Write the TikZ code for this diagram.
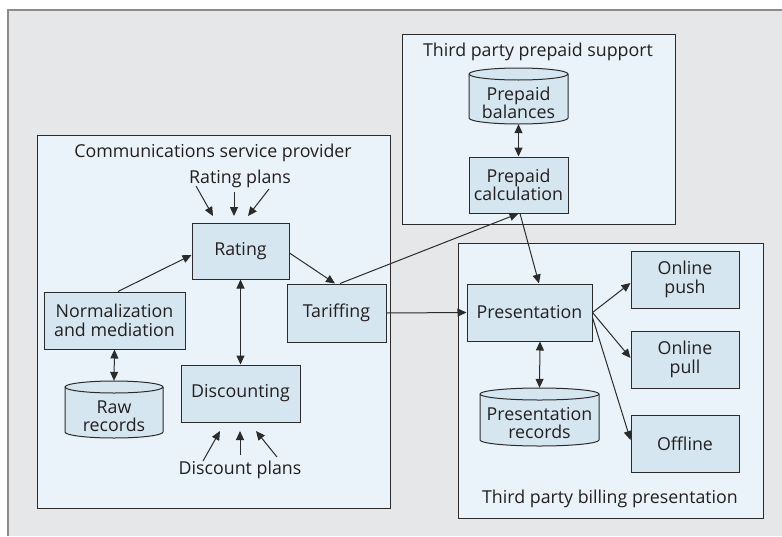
\documentclass[tikz,border=0pt]{standalone}
\usepackage{fontspec}
\setmainfont{Open Sans}
\usetikzlibrary{arrows.meta}
\definecolor{outerbg}{HTML}{E6E7E8}
\definecolor{outerline}{HTML}{8C8C8C}
\definecolor{contbg}{HTML}{EBF3FA}
\definecolor{nodebg}{HTML}{D6E6F0}
\definecolor{lineclr}{HTML}{2B2B2B}
\definecolor{txt}{HTML}{231F20}
\tikzset{
  every node/.style={font=\fontsize{17.8}{18.5}\selectfont, text=txt},
  container/.style={draw=lineclr, fill=contbg, line width=1pt},
  procbox/.style={draw=lineclr, fill=nodebg, line width=1pt, rectangle, inner sep=0pt, align=center},
  cylbox/.style={rectangle, inner sep=0pt, draw=none},
  cylst/.style={draw=lineclr, fill=nodebg, line width=1pt},
  cyltext/.style={align=center, inner sep=0pt},
  plain/.style={inner sep=0pt},
  conn/.style={draw=lineclr, line width=1pt},
  onearrow/.style={conn, -{Triangle[length=9pt,width=8pt]}},
  twoarrow/.style={conn, {Triangle[length=9pt,width=8pt]}-{Triangle[length=9pt,width=8pt]}},
}
\begin{document}
\begin{tikzpicture}[x=1pt,y=-1pt]
\useasboundingbox (0,0) rectangle (782,536);
% outer frame
\fill[outerbg] (8,10) rectangle (782,536);
\draw[outerline, line width=1.2pt] (8,536) -- (8,10) -- (782,10);
% containers
\draw[container] (37,135) rectangle (390,508);
\draw[container] (402,34) rectangle (675,224);
\draw[container] (458,243) rectangle (763,518);
\node[plain] (csptitle) at (213,153) {Communications service provider};
\node[plain] (tppstitle) at (538,52) {Third party prepaid support};
\node[plain] (tpbptitle) at (610,499) {Third party billing presentation};
% process boxes
\node[procbox, minimum width=97pt, minimum height=56pt] (rating) at (240.5,251) {Rating};
\node[procbox, minimum width=141pt, minimum height=57pt] (norm) at (114.5,320.5) {Normalization\\and mediation};
\node[procbox, minimum width=119pt, minimum height=57pt] (disc) at (240.5,393.5) {Discounting};
\node[procbox, minimum width=99pt, minimum height=58pt] (tarif) at (336.5,313) {Tariffing};
\node[procbox, minimum width=99pt, minimum height=56pt] (ppcalc) at (518.5,185) {Prepaid\\calculation};
\node[procbox, minimum width=125pt, minimum height=57pt] (pres) at (529.5,312.5) {Presentation};
\node[procbox, minimum width=108pt, minimum height=57pt] (push) at (685,279.5) {Online\\push};
\node[procbox, minimum width=108pt, minimum height=57pt] (pull) at (685,359.5) {Online\\pull};
\node[procbox, minimum width=108pt, minimum height=57pt] (off) at (685,443.5) {Offline};
% cylinders
\filldraw[cylst] (65,387) -- (65,432) arc[start angle=180,end angle=360,x radius=49pt,y radius=6pt] -- (163,387) arc[start angle=0,end angle=180,x radius=49pt,y radius=6pt] -- cycle;
\draw[cylst, fill=none] (65,387) arc[start angle=180,end angle=360,x radius=49pt,y radius=6pt];
\node[cylbox, minimum width=98pt, minimum height=57pt] (raw) at (114,409.5) {};
\node[cyltext] (rawtext) at ([yshift=-6.5pt]raw.center) {Raw\\records};

\filldraw[cylst] (469,74) -- (469,118) arc[start angle=180,end angle=360,x radius=49.5pt,y radius=6pt] -- (568,74) arc[start angle=0,end angle=180,x radius=49.5pt,y radius=6pt] -- cycle;
\draw[cylst, fill=none] (469,74) arc[start angle=180,end angle=360,x radius=49.5pt,y radius=6pt];
\node[cylbox, minimum width=99pt, minimum height=56pt] (ppbal) at (518.5,96) {};
\node[cyltext] (ppbaltext) at ([yshift=-7pt]ppbal.center) {Prepaid\\balances};

\filldraw[cylst] (480,394) -- (480,440) arc[start angle=180,end angle=360,x radius=59.5pt,y radius=6pt] -- (599,394) arc[start angle=0,end angle=180,x radius=59.5pt,y radius=6pt] -- cycle;
\draw[cylst, fill=none] (480,394) arc[start angle=180,end angle=360,x radius=59.5pt,y radius=6pt];
\node[cylbox, minimum width=119pt, minimum height=58pt] (presrec) at (539.5,417) {};
\node[cyltext] (presrectext) at ([yshift=-6pt]presrec.center) {Presentation\\records};
% plans
\node[plain] (rplans) at (240,179) {Rating plans};
\node[plain] (dplans) at (240,470) {Discount plans};
\coordinate (rp1) at (196,186); \coordinate (rp1e) at (213,216);
\coordinate (rp2) at (234,192); \coordinate (rp2e) at (234,216);
\coordinate (rp3) at (269,189); \coordinate (rp3e) at (248,216);
\coordinate (dp1) at (203,461); \coordinate (dp1e) at (220,431);
\coordinate (dp2) at (240,455); \coordinate (dp2e) at (240,431);
\coordinate (dp3) at (277,457); \coordinate (dp3e) at (256,431);
\draw[onearrow] (rp1) -- (rp1e);
\draw[onearrow] (rp2) -- (rp2e);
\draw[onearrow] (rp3) -- (rp3e);
\draw[onearrow] (dp1) -- (dp1e);
\draw[onearrow] (dp2) -- (dp2e);
\draw[onearrow] (dp3) -- (dp3e);
% connectors
\draw[onearrow] ([xshift=3.5pt]norm.north) -- ([yshift=-4pt]rating.west);
\draw[twoarrow] (norm.south) -- (raw.north);
\draw[twoarrow] (rating.south) -- (disc.north);
\draw[onearrow] ([yshift=-2pt]rating.east) -- ([xshift=-1.5pt]tarif.north);
\draw[onearrow] ([xshift=3.5pt]tarif.north) -- (ppcalc.south);
\draw[onearrow] (tarif.east) -- (pres.west);
\draw[twoarrow] (ppbal.south) -- (ppcalc.north);
\draw[onearrow] ([xshift=1.5pt]ppcalc.south) -- ([xshift=9.5pt]pres.north);
\draw[onearrow] (pres.east) -- ([yshift=-3.5pt]push.west);
\draw[onearrow] (pres.east) -- ([yshift=1.5pt]pull.west);
\draw[onearrow] ([yshift=-5pt]pres.east) -- ([yshift=3.5pt]off.west);
\draw[twoarrow] ([xshift=10.5pt]pres.south) -- (presrec.north);
\end{tikzpicture}
\end{document}
